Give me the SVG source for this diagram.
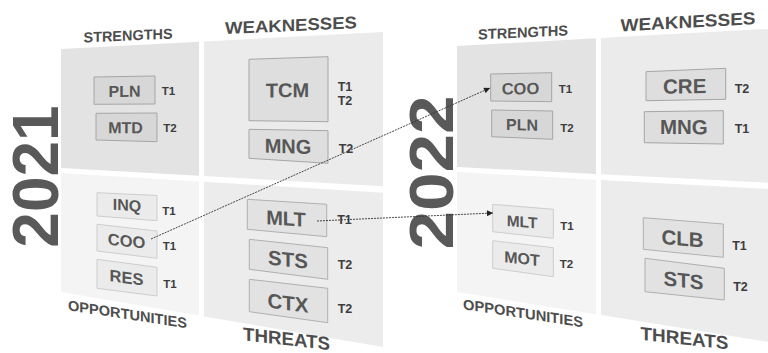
<svg xmlns="http://www.w3.org/2000/svg" width="768" height="353" viewBox="0 0 768 353">
<defs>
<style>
.qs{fill:#e3e3e3}
.qw{fill:#ebebeb}
.qo{fill:#f4f4f4}
.qt{fill:#ececec}
.bu{fill:#d7d7d7;stroke:#a6a6a6;stroke-width:1}
.bw{fill:#dedede;stroke:#a6a6a6;stroke-width:1}
.bo{fill:#ebebeb;stroke:#cdcdcd;stroke-width:1}
.bt{fill:#e2e2e2;stroke:#b0b0b0;stroke-width:1}
text{font-family:"Liberation Sans",Arial,sans-serif;font-weight:bold}
.hd{fill:#4d4d4d;text-anchor:middle}
.bx{fill:#575757;text-anchor:middle}
.tl{fill:#3d3d3d;text-anchor:middle}
.yr{fill:#595959;text-anchor:middle;font-size:64px}
.cn{fill:none;stroke:#333;stroke-width:0.9;stroke-dasharray:2 1}
</style>
<marker id="ah" viewBox="0 0 10 10" refX="10" refY="5" markerWidth="7" markerHeight="6" markerUnits="userSpaceOnUse" orient="auto">
<path d="M0,0 L10,5 L0,10 z" fill="#222"/>
</marker>
</defs>
<rect width="768" height="353" fill="#ffffff"/>

<g id="panel-2021">
<text class="yr" transform="translate(58,176.5) rotate(-90)">2021</text>
<g id="q2021-s">
<polygon class="qs" points="61,49 199,41.7 199,175.8 61,168"/>
<text class="hd" font-size="14.5" textLength="89" lengthAdjust="spacingAndGlyphs" transform="translate(128,35.3) skewY(-2.5)" y="5.2">STRENGTHS</text>
</g>
<g id="q2021-w">
<polygon class="qw" points="204,41.4 383,31.9 383,186.3 204,176.1"/>
<text class="hd" font-size="17" textLength="132" lengthAdjust="spacingAndGlyphs" transform="translate(291,25) skewY(-2.6)" y="6.1">WEAKNESSES</text>
</g>
<g id="q2021-o">
<polygon class="qo" points="61,173 199,181.5 199,315.6 61,292"/>
<text class="hd" font-size="14.5" textLength="119" lengthAdjust="spacingAndGlyphs" transform="translate(127.5,314) skewY(8.6)" y="5.2">OPPORTUNITIES</text>
</g>
<g id="q2021-t">
<polygon class="qt" points="204,181.8 383,192.7 383,347 204,316.5"/>
<text class="hd" font-size="18.5" textLength="87" lengthAdjust="spacingAndGlyphs" transform="translate(286.5,338.5) skewY(6.5)" y="6.6">THREATS</text>
</g>

<g id="n2021-PLN">
<polygon class="bu" points="94,77 155,76 155,104 94,104.3"/>
<text class="bx" font-size="16" transform="translate(124.5,91) skewY(-0.8)" y="5.8">PLN</text>
<text class="tl" font-size="11.5" x="168.5" y="95">T1</text>
</g>
<g id="n2021-MTD">
<polygon class="bu" points="96,113.3 157,113 157,141.7 96,140"/>
<text class="bx" font-size="16" transform="translate(125.5,127.5) skewY(0.5)" y="5.8">MTD</text>
<text class="tl" font-size="11.5" x="170" y="132">T2</text>
</g>
<g id="n2021-TCM">
<polygon class="bw" points="249,59.3 328,56.7 328,121.7 249,120.7"/>
<text class="bx" font-size="20" transform="translate(287.5,90) skewY(-0.7)" y="7.2">TCM</text>
<text class="tl" font-size="12.5" x="345" y="90.5">T1</text>
<text class="tl" font-size="12.5" x="345" y="104.5">T2</text>
</g>
<g id="n2021-MNG">
<polygon class="bw" points="249,129.3 328,130.7 328,163.3 249,158.3"/>
<text class="bx" font-size="20" transform="translate(288,146) skewY(2)" y="7.2">MNG</text>
<text class="tl" font-size="12.5" x="346" y="152.5">T2</text>
</g>
<g id="n2021-INQ">
<polygon class="bo" points="97,192.7 157,195.5 157,220.7 97,216"/>
<text class="bx" font-size="16" transform="translate(127,205) skewY(4)" y="5.8">INQ</text>
<text class="tl" font-size="11.5" x="169" y="214.5">T1</text>
</g>
<g id="n2021-COO">
<polygon class="bo" points="97,224.3 157,231 157,258.3 97,251"/>
<text class="bx" font-size="16.5" transform="translate(126.5,240.7) skewY(6)" y="6">COO</text>
<text class="tl" font-size="11.5" x="169.5" y="249.5">T1</text>
</g>
<g id="n2021-RES">
<polygon class="bo" points="97,259.3 157,267.3 157,296 97,288.3"/>
<text class="bx" font-size="16.5" transform="translate(126.5,277.3) skewY(7.6)" y="6">RES</text>
<text class="tl" font-size="11.5" x="170" y="287.5">T1</text>
</g>
<g id="n2021-MLT">
<polygon class="bt" points="247.3,199.3 326.7,204.3 326.7,236.7 247.3,229.3"/>
<text class="bx" font-size="20" transform="translate(286,218.3) skewY(3.8)" y="7.2">MLT</text>
<text class="tl" font-size="12.5" x="344.5" y="223.5">T1</text>
</g>
<g id="n2021-STS">
<polygon class="bt" points="249.3,239.3 327.7,247.7 327.7,279.3 249.3,269.3"/>
<text class="bx" font-size="20.5" transform="translate(288,259.3) skewY(6)" y="7.4">STS</text>
<text class="tl" font-size="12.5" x="345" y="268.8">T2</text>
</g>
<g id="n2021-CTX">
<polygon class="bt" points="249.3,279.3 327.7,288.3 327.7,322.7 249.3,311.7"/>
<text class="bx" font-size="20.5" transform="translate(288,302.7) skewY(7)" y="7.4">CTX</text>
<text class="tl" font-size="12.5" x="345" y="312.8">T2</text>
</g>
</g>

<g id="panel-2022">
<text class="yr" textLength="154" lengthAdjust="spacingAndGlyphs" transform="translate(453,172.5) rotate(-90)" style="font-size:63px">2022</text>
<g id="q2022-s">
<polygon class="qs" points="457,46 596,38.3 596,174 457,167"/>
<text class="hd" font-size="14.5" textLength="90" lengthAdjust="spacingAndGlyphs" transform="translate(523,32.2) skewY(-2.7)" y="5.2">STRENGTHS</text>
</g>
<g id="q2022-w">
<polygon class="qw" points="601,38.1 768,28.9 768,182.8 601,174.3"/>
<text class="hd" font-size="17.5" textLength="135" lengthAdjust="spacingAndGlyphs" transform="translate(688,21.5) skewY(-3.2)" y="6.3">WEAKNESSES</text>
</g>
<g id="q2022-o">
<polygon class="qo" points="457,172 596,179.7 596,314.2 457,292"/>
<text class="hd" font-size="14.5" textLength="120" lengthAdjust="spacingAndGlyphs" transform="translate(523,313) skewY(8.6)" y="5.2">OPPORTUNITIES</text>
</g>
<g id="q2022-t">
<polygon class="qt" points="601,180 768,189 768,341.8 601,315"/>
<text class="hd" font-size="18.5" textLength="88" lengthAdjust="spacingAndGlyphs" transform="translate(684.5,338) skewY(6.3)" y="6.6">THREATS</text>
</g>

<g id="n2022-COO">
<polygon class="bu" points="490.7,74 551.7,72.7 551.7,101.7 490.7,101"/>
<text class="bx" font-size="16.5" transform="translate(520.5,88.3) skewY(-0.8)" y="6">COO</text>
<text class="tl" font-size="11.5" x="565.5" y="92.5">T1</text>
</g>
<g id="n2022-PLN">
<polygon class="bu" points="491.7,110 552.7,111 552.7,139.3 491.7,136.7"/>
<text class="bx" font-size="16" transform="translate(522,124.5) skewY(1)" y="5.8">PLN</text>
<text class="tl" font-size="11.5" x="567" y="132">T2</text>
</g>
<g id="n2022-CRE">
<polygon class="bw" points="646,71.7 725.7,68.3 725.7,99.3 646,100.7"/>
<text class="bx" font-size="20.5" transform="translate(684.7,86) skewY(-1)" y="7.4">CRE</text>
<text class="tl" font-size="12.5" x="742" y="92.8">T2</text>
</g>
<g id="n2022-MNG">
<polygon class="bw" points="644.3,111.7 723.3,110.7 723.3,144 644.3,142.7"/>
<text class="bx" font-size="20.5" transform="translate(683.8,126.7) skewY(0.5)" y="7.4">MNG</text>
<text class="tl" font-size="12.5" x="742" y="132.8">T1</text>
</g>
<g id="n2022-MLT">
<polygon class="bo" points="492.7,204.3 553.3,209.3 553.3,238.3 492.7,231.7"/>
<text class="bx" font-size="15.5" transform="translate(522,221.7) skewY(4.5)" y="5.6">MLT</text>
<text class="tl" font-size="11.5" x="567" y="230.3">T1</text>
</g>
<g id="n2022-MOT">
<polygon class="bo" points="492.7,240.7 553.3,247.7 553.3,276.7 492.7,268.3"/>
<text class="bx" font-size="16" transform="translate(522,258.3) skewY(6.3)" y="5.8">MOT</text>
<text class="tl" font-size="11.5" x="566.5" y="268.3">T2</text>
</g>
<g id="n2022-CLB">
<polygon class="bt" points="643.3,217.7 723.3,224 723.3,257.3 643.3,249.3"/>
<text class="bx" font-size="20.5" transform="translate(682.5,238.3) skewY(4.5)" y="7.4">CLB</text>
<text class="tl" font-size="12.5" x="739.5" y="249.5">T1</text>
</g>
<g id="n2022-STS">
<polygon class="bt" points="645,258.3 724.3,268.3 724.3,300 645,291.7"/>
<text class="bx" font-size="20.5" transform="translate(683.5,280) skewY(6.5)" y="7.4">STS</text>
<text class="tl" font-size="12.5" x="740.5" y="290.5">T2</text>
</g>
</g>

<g id="connectors">
<line class="cn" x1="151" y1="239" x2="490" y2="88" marker-end="url(#ah)"/>
<line class="cn" x1="317" y1="221" x2="493" y2="213" marker-end="url(#ah)"/>
</g>
</svg>
